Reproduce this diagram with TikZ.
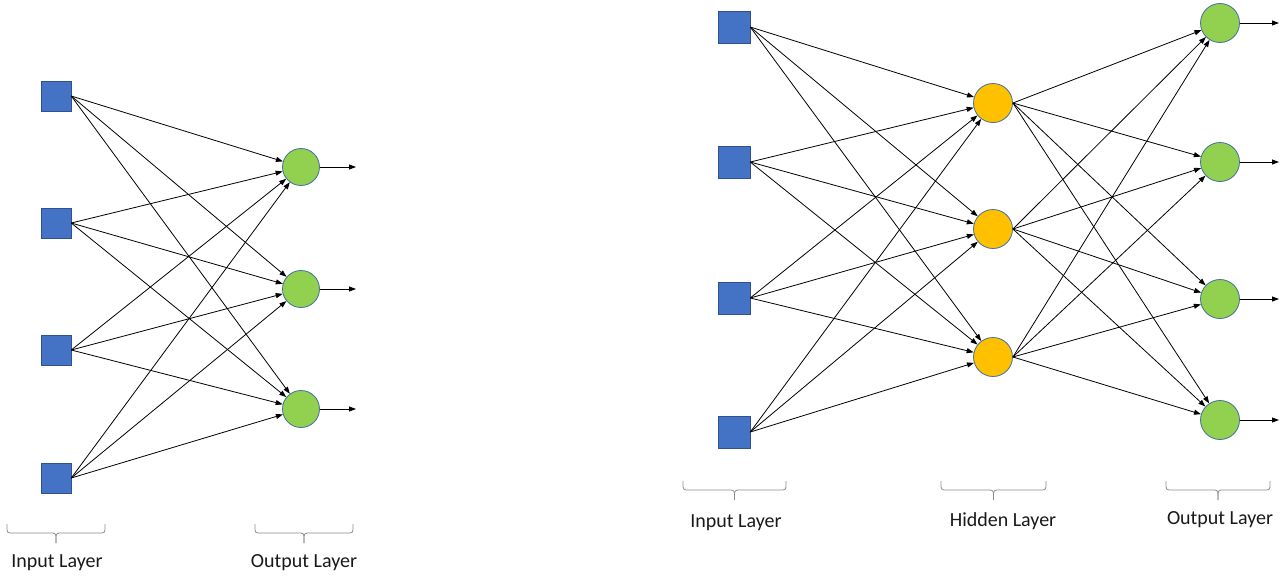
\documentclass[tikz,border=0pt]{standalone}
\usepackage{fontspec}
\setmainfont{Carlito}
\usetikzlibrary{arrows.meta}
\definecolor{sqblue}{HTML}{4472C4}
\definecolor{sqedge}{HTML}{2F528F}
\definecolor{cgreen}{HTML}{92D050}
\definecolor{corange}{HTML}{FFC000}
\definecolor{cedge}{HTML}{41719C}
\definecolor{bracegray}{HTML}{8C8C8C}
\newcommand{\layerbrace}[5]{% x1, x2, ytop, yline, ytip
  \draw[brc] (#1,#3) -- (#1,#4) -- ({(#1+#2)/2},#4) -- ({(#1+#2)/2},#5);
  \draw[brc] (#2,#3) -- (#2,#4) -- ({(#1+#2)/2},#4) -- ({(#1+#2)/2},#5);
}
\begin{document}
\begin{tikzpicture}[x=1pt,y=-1pt,
  inp/.style={rectangle, fill=sqblue, draw=sqedge, line width=0.5pt, minimum size=30pt, inner sep=0pt},
  outc/.style={circle, fill=cgreen, draw=cedge, line width=0.8pt, minimum size=37pt, inner sep=0pt},
  hid/.style={circle, fill=corange, draw=cedge, line width=0.8pt, minimum size=39pt, inner sep=0pt},
  conn/.style={-{Triangle[length=7pt,width=5pt]}, line width=0.8pt, black},
  brc/.style={draw=bracegray, line width=0.8pt, rounded corners=3pt},
  lbl/.style={font=\fontsize{20}{24}\selectfont, text=black!90!white}
]
\useasboundingbox (0,0) rectangle (1281,576);

% ---------- left network ----------
\foreach \i/\y in {1/96,2/223,3/350,4/478}
  \node[inp] (a\i) at (56,\y) {};
\foreach \j/\y in {1/167,2/289,3/409} {
  \node[outc] (b\j) at (301,\y) {};
  \coordinate (bo\j) at (356,\y);
}
\foreach \i in {1,...,4}
  \foreach \j in {1,2,3}
    \draw[conn] (a\i.east) -- (b\j);
\foreach \j in {1,2,3}
  \draw[conn] (b\j.east) -- (bo\j);

\layerbrace{7}{105}{524}{533}{543}
\layerbrace{255}{353}{524}{533}{543}
\node[lbl] (lin) at (57,563) {Input Layer};
\node[lbl] (lout) at (304,563) {Output Layer};

% ---------- right network ----------
\foreach \i/\y in {1/27,2/162,3/298,4/432}
  \node[inp, minimum size=32pt] (c\i) at (734,\y) {};
\foreach \k/\y in {1/103,2/229,3/357}
  \node[hid] (h\k) at (993,\y) {};
\foreach \j/\y in {1/23,2/162,3/299,4/420} {
  \node[hid, fill=cgreen] (d\j) at (1220,\y) {};
  \coordinate (do\j) at (1279,\y);
}
\foreach \i in {1,...,4}
  \foreach \k in {1,2,3}
    \draw[conn] (c\i.east) -- (h\k);
\foreach \k in {1,2,3}
  \foreach \j in {1,...,4}
    \draw[conn] (h\k.east) -- (d\j);
\foreach \j in {1,...,4}
  \draw[conn] (d\j.east) -- (do\j);

\layerbrace{683}{786}{481}{490}{500}
\layerbrace{941}{1046}{481}{490}{500}
\layerbrace{1166}{1270}{481}{490}{500}
\node[lbl] (rin) at (736,523) {Input Layer};
\node[lbl] (rhid) at (1003,521) {Hidden Layer};
\node[lbl] (rout) at (1220,520) {Output Layer};
\end{tikzpicture}
\end{document}
